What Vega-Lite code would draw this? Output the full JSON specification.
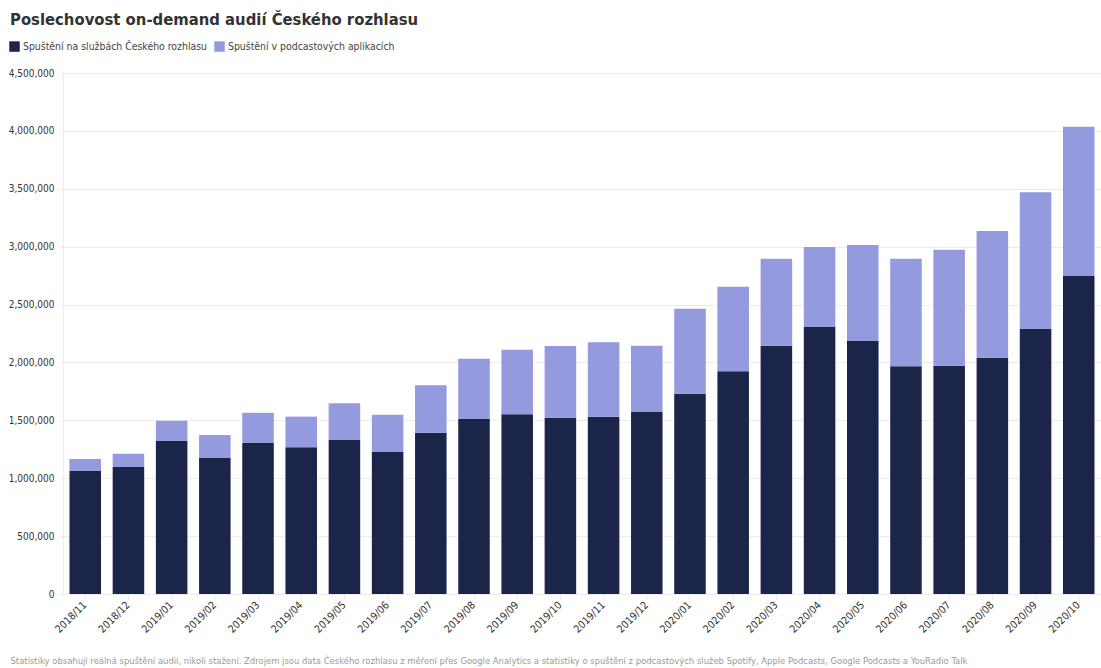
{
  "$schema": "https://vega.github.io/schema/vega-lite/v6.json",
  "width": 1038,
  "height": 521,
  "autosize": {"type": "none"},
  "padding": {"left": 63, "top": 73, "right": 0, "bottom": 74},
  "background": "#ffffff",
  "title": {
    "text": "Poslechovost on-demand audií Českého rozhlasu",
    "anchor": "start",
    "frame": "group",
    "dx": -53,
    "offset": 13,
    "font": "DejaVu Sans Condensed, Roboto, sans-serif",
    "fontSize": 16.5,
    "fontWeight": "bold",
    "color": "#333333"
  },
  "config": {
    "font": "DejaVu Sans Condensed, Roboto, sans-serif",
    "view": {"stroke": null}
  },
  "data": {
    "values": [
      {"month": "2018/11", "series": "Spuštění na službách Českého rozhlasu", "value": 1062000},
      {"month": "2018/11", "series": "Spuštění v podcastových aplikacích", "value": 104000},
      {"month": "2018/12", "series": "Spuštění na službách Českého rozhlasu", "value": 1097000},
      {"month": "2018/12", "series": "Spuštění v podcastových aplikacích", "value": 115000},
      {"month": "2019/01", "series": "Spuštění na službách Českého rozhlasu", "value": 1321000},
      {"month": "2019/01", "series": "Spuštění v podcastových aplikacích", "value": 175000},
      {"month": "2019/02", "series": "Spuštění na službách Českého rozhlasu", "value": 1175000},
      {"month": "2019/02", "series": "Spuštění v podcastových aplikacích", "value": 198000},
      {"month": "2019/03", "series": "Spuštění na službách Českého rozhlasu", "value": 1304000},
      {"month": "2019/03", "series": "Spuštění v podcastových aplikacích", "value": 261000},
      {"month": "2019/04", "series": "Spuštění na službách Českého rozhlasu", "value": 1268000},
      {"month": "2019/04", "series": "Spuštění v podcastových aplikacích", "value": 264000},
      {"month": "2019/05", "series": "Spuštění na službách Českého rozhlasu", "value": 1330000},
      {"month": "2019/05", "series": "Spuštění v podcastových aplikacích", "value": 317000},
      {"month": "2019/06", "series": "Spuštění na službách Českého rozhlasu", "value": 1226000},
      {"month": "2019/06", "series": "Spuštění v podcastových aplikacích", "value": 323000},
      {"month": "2019/07", "series": "Spuštění na službách Českého rozhlasu", "value": 1393000},
      {"month": "2019/07", "series": "Spuštění v podcastových aplikacích", "value": 410000},
      {"month": "2019/08", "series": "Spuštění na službách Českého rozhlasu", "value": 1511000},
      {"month": "2019/08", "series": "Spuštění v podcastových aplikacích", "value": 520000},
      {"month": "2019/09", "series": "Spuštění na službách Českého rozhlasu", "value": 1553000},
      {"month": "2019/09", "series": "Spuštění v podcastových aplikacích", "value": 557000},
      {"month": "2019/10", "series": "Spuštění na službách Českého rozhlasu", "value": 1523000},
      {"month": "2019/10", "series": "Spuštění v podcastových aplikacích", "value": 619000},
      {"month": "2019/11", "series": "Spuštění na službách Českého rozhlasu", "value": 1531000},
      {"month": "2019/11", "series": "Spuštění v podcastových aplikacích", "value": 644000},
      {"month": "2019/12", "series": "Spuštění na službách Českého rozhlasu", "value": 1572000},
      {"month": "2019/12", "series": "Spuštění v podcastových aplikacích", "value": 573000},
      {"month": "2020/01", "series": "Spuštění na službách Českého rozhlasu", "value": 1730000},
      {"month": "2020/01", "series": "Spuštění v podcastových aplikacích", "value": 733000},
      {"month": "2020/02", "series": "Spuštění na službách Českého rozhlasu", "value": 1925000},
      {"month": "2020/02", "series": "Spuštění v podcastových aplikacích", "value": 728000},
      {"month": "2020/03", "series": "Spuštění na službách Českého rozhlasu", "value": 2144000},
      {"month": "2020/03", "series": "Spuštění v podcastových aplikacích", "value": 752000},
      {"month": "2020/04", "series": "Spuštění na službách Českého rozhlasu", "value": 2306000},
      {"month": "2020/04", "series": "Spuštění v podcastových aplikacích", "value": 692000},
      {"month": "2020/05", "series": "Spuštění na službách Českého rozhlasu", "value": 2185000},
      {"month": "2020/05", "series": "Spuštění v podcastových aplikacích", "value": 830000},
      {"month": "2020/06", "series": "Spuštění na službách Českého rozhlasu", "value": 1968000},
      {"month": "2020/06", "series": "Spuštění v podcastových aplikacích", "value": 928000},
      {"month": "2020/07", "series": "Spuštění na službách Českého rozhlasu", "value": 1972000},
      {"month": "2020/07", "series": "Spuštění v podcastových aplikacích", "value": 1001000},
      {"month": "2020/08", "series": "Spuštění na službách Českého rozhlasu", "value": 2041000},
      {"month": "2020/08", "series": "Spuštění v podcastových aplikacích", "value": 1095000},
      {"month": "2020/09", "series": "Spuštění na službách Českého rozhlasu", "value": 2289000},
      {"month": "2020/09", "series": "Spuštění v podcastových aplikacích", "value": 1180000},
      {"month": "2020/10", "series": "Spuštění na službách Českého rozhlasu", "value": 2746000},
      {"month": "2020/10", "series": "Spuštění v podcastových aplikacích", "value": 1290000}
    ]
  },
  "mark": {"type": "bar"},
  "encoding": {
    "x": {
      "field": "month",
      "type": "ordinal",
      "sort": null,
      "scale": {"paddingInner": 0.27, "paddingOuter": 0.15},
      "axis": {
        "title": "Statistiky obsahují reálná spuštění audií, nikoli stažení. Zdrojem jsou data Českého rozhlasu z měření přes Google Analytics a statistiky o spuštění z podcastových služeb Spotify, Apple Podcasts, Google Podcasts a YouRadio Talk",
        "titleAnchor": "start",
        "titleAlign": "left",
        "titleBaseline": "alphabetic",
        "titleX": -53,
        "titleY": 69,
        "titleFontSize": 9.4,
        "titleFontWeight": "normal",
        "titleColor": "#9a9a9a",
        "labelAngle": -45,
        "labelAlign": "right",
        "labelBaseline": "middle",
        "labelFontSize": 10.5,
        "labelColor": "#333333",
        "labelPadding": 4,
        "domain": false,
        "ticks": true,
        "tickColor": "#e6e6e6",
        "tickSize": 5
      }
    },
    "y": {
      "field": "value",
      "type": "quantitative",
      "stack": "zero",
      "scale": {"domain": [0, 4500000], "nice": false},
      "axis": {
        "title": null,
        "format": ",d",
        "values": [0, 500000, 1000000, 1500000, 2000000, 2500000, 3000000, 3500000, 4000000, 4500000],
        "labelFontSize": 10,
        "labelColor": "#333333",
        "labelPadding": 6,
        "domain": true,
        "domainColor": "#ececec",
        "ticks": true,
        "tickColor": "#e6e6e6",
        "tickSize": 3,
        "gridColor": "#ececec"
      }
    },
    "color": {
      "field": "series",
      "type": "nominal",
      "scale": {
        "domain": ["Spuštění na službách Českého rozhlasu", "Spuštění v podcastových aplikacích"],
        "range": ["#1b2549", "#939ade"]
      },
      "legend": {
        "title": null,
        "orient": "none",
        "direction": "horizontal",
        "legendX": -54,
        "legendY": -32,
        "symbolType": "square",
        "symbolSize": 110,
        "symbolStrokeWidth": 0,
        "labelFontSize": 10.4,
        "labelLimit": 0,
        "labelColor": "#444444",
        "labelOffset": 3,
        "columnPadding": 6
      }
    },
    "order": {"field": "series", "type": "nominal", "sort": "ascending"}
  }
}
